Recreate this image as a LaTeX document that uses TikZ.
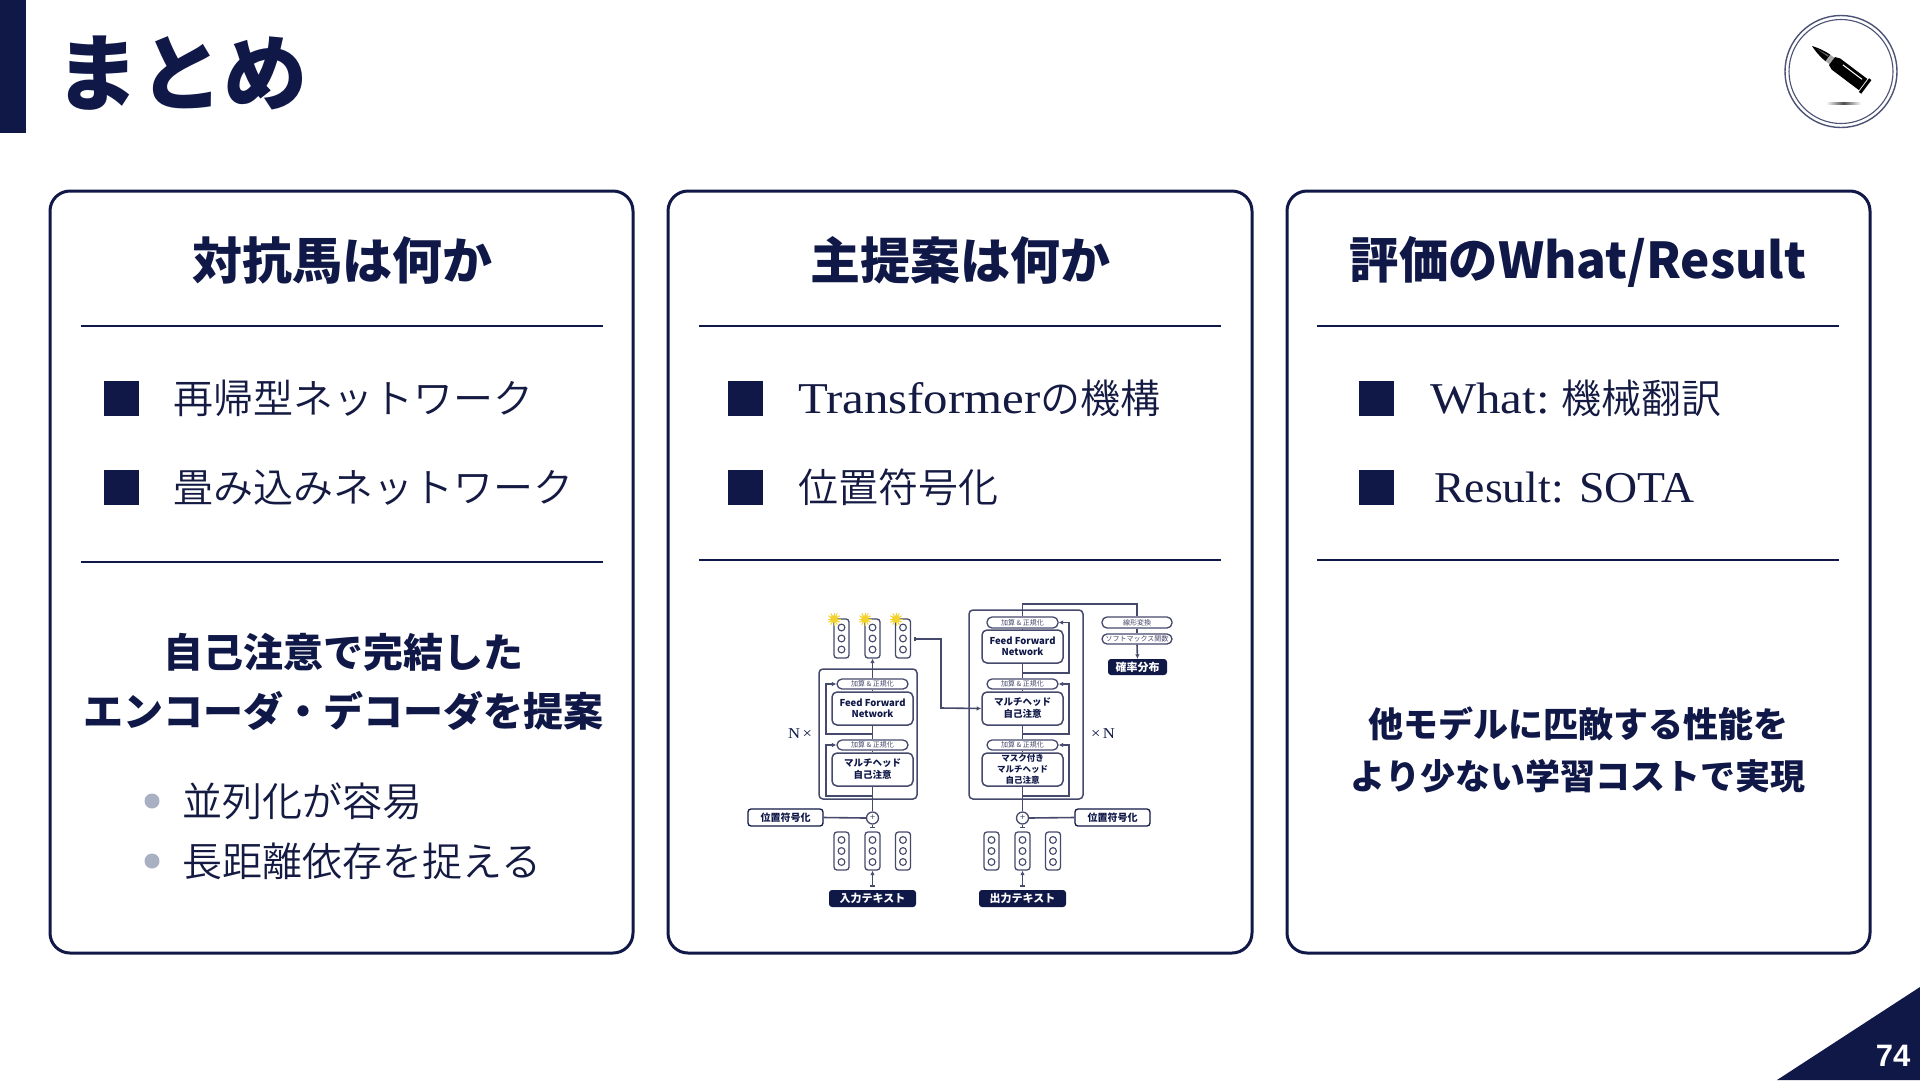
\documentclass[tikz,border=0pt]{standalone}
\usepackage{fontspec}
\usetikzlibrary{arrows.meta}
\setmainfont{Noto Sans CJK JP}
\newfontfamily\jpb{Noto Sans CJK JP Black}
\newfontfamily\jpn{Noto Sans CJK JP DemiLight}
\newfontfamily\jpr{Noto Sans CJK JP}
\newfontfamily\lat[FakeStretch=1.11]{Liberation Serif}
\newfontfamily\latb[FakeStretch=1.04]{Liberation Serif}
\newfontfamily\num{Liberation Sans Bold}
\definecolor{navy}{HTML}{101848}
\definecolor{wirec}{HTML}{45496B}
\definecolor{dotc}{HTML}{A9B0C2}
\definecolor{bodyc}{HTML}{141A42}
\definecolor{starc}{HTML}{F4D22E}
\newcommand{\fs}[1]{\fontsize{#1}{#1}\selectfont}
\newcommand{\mx}[1]{{\lat\fs{44}#1}}
\newcommand{\mxb}[1]{{\latb\fs{44}#1}}
% box from corners: name, style, x1,y1,x2,y2, text
\newcommand{\bx}[7]{%
  \pgfmathsetmacro{\bxw}{#5-#3}\pgfmathsetmacro{\bxh}{#6-#4}%
  \pgfmathsetmacro{\bxcx}{(#3+#5)/2}\pgfmathsetmacro{\bxcy}{(#4+#6)/2}%
  \node[#2,minimum width=\bxw pt,minimum height=\bxh pt] (#1) at (\bxcx,\bxcy) {#7};}
\tikzset{
 x=1pt,y=-1pt,
 panel/.style={draw=navy,line width=3pt,rounded corners=20pt,fill=white,inner sep=0},
 hr/.style={draw=navy,line width=2pt},
 ptitle/.style={text=navy,font=\jpb\fs{50},inner sep=0},
 ptxt/.style={text=bodyc,font=\jpn\fs{40},inner sep=0,anchor=west},
 btxt/.style={text=navy,font=\jpb\fs{40},inner sep=0},
 ctxt/.style={text=navy,font=\jpb\fs{35},inner sep=0},
 wbox/.style={draw=wirec,line width=1.5pt,rounded corners=5pt,fill=white,inner sep=0,align=center,text=navy,font=\jpb\fs{9.5}},
 anorm/.style={draw=wirec,line width=1.3pt,rounded corners=5pt,fill=white,inner sep=0,text=wirec,font=\jpr\fs{7}},
 labelb/.style={draw=navy,line width=1.3pt,rounded corners=3pt,fill=white,inner sep=0,text=navy,font=\jpb\fs{10}},
 tagb/.style={fill=navy,rounded corners=3pt,inner sep=0,text=white,font=\jpb\fs{11}},
 vecb/.style={draw=wirec,line width=1.3pt,rounded corners=3pt,fill=white,inner sep=0},
 cell/.style={draw=wirec,line width=1.1pt,circle,fill=white,minimum size=6.8pt,inner sep=0},
 bigbox/.style={draw=wirec,line width=1.5pt,rounded corners=4pt,inner sep=0},
 wire/.style={draw=wirec,line width=1.6pt},
 arr/.style={wire,-{Latex[length=4.5pt,width=4.5pt]}},
 tarr/.style={wire,{Bar[width=4.5pt,length=1pt]}-{Latex[length=4.5pt,width=4.5pt]}},
 tline/.style={wire,{Bar[width=4.5pt,length=1pt]}-},
 plusb/.style={draw=wirec,line width=1.3pt,circle,fill=white,minimum size=12pt,inner sep=0,text=wirec,font=\jpr\fs{9}},
 ntxt/.style={inner sep=0,text=navy,font=\lat\fs{15}},
}
\newcommand{\vecbox}[4]{% name, x, y1, y2
  \pgfmathsetmacro{\vy}{(#3+#4)/2}
  \pgfmathsetmacro{\vh}{#4-#3}
  \node[vecb,minimum width=15pt,minimum height=\vh pt] (#1) at (#2,\vy) {};
  \node[cell] (#1a) at (#2,\vy-11) {};
  \node[cell] (#1b) at (#2,\vy) {};
  \node[cell] (#1c) at (#2,\vy+11) {};}
\begin{document}
\begin{tikzpicture}
\useasboundingbox (0,0) rectangle (1920,1080);
\fill[white] (0,0) rectangle (1920,1080);
% header
\fill[navy] (0,0) rectangle (26,133);
\node[anchor=west,inner sep=0,text=navy,font=\jpb\fs{84}] (title) at (55,73) {まとめ};
% panels
\bx{p1}{panel}{50}{191}{633}{953}{}
\bx{p2}{panel}{668}{191}{1252}{953}{}
\bx{p3}{panel}{1287}{191}{1870}{953}{}
\node[ptitle] (t1) at (342,260) {対抗馬は何か};
\node[ptitle] (t2) at (960,260) {主提案は何か};
\node[ptitle,font=\jpb\fs{49.4}] (t3) at (1578,262) {評価のWhat/Result};
\draw[hr] (81,326) -- (603,326);
\draw[hr] (699,326) -- (1221,326);
\draw[hr] (1317,326) -- (1839,326);
\draw[hr] (81,562) -- (603,562);
\draw[hr] (699,560) -- (1221,560);
\draw[hr] (1317,560) -- (1839,560);
% bullets
\foreach \x/\y in {104/381,104/470,728/381,728/470,1359/381,1359/470}{
  \fill[navy] (\x,\y) rectangle ++(35,35);}
\node[ptxt] (l1) at (173,398) {再帰型ネットワーク};
\node[ptxt] (l2) at (173,488) {畳み込みネットワーク};
\node[ptxt] (l3) at (798,398) {\mx{Transformer}の機構};
\node[ptxt] (l4) at (798,487) {位置符号化};
\node[ptxt] (l5) at (1430,398) {\mx{What:} 機械翻訳};
\node[ptxt] (l6) at (1434,488) {\mxb{Result: SOTA}};
\node[btxt] (b1) at (343,652) {自己注意で完結した};
\node[btxt] (b2) at (343,711) {エンコーダ・デコーダを提案};
\fill[dotc] (152,801) circle (7.5);
\fill[dotc] (152,861) circle (7.5);
\node[ptxt] (s1) at (182,801) {並列化が容易};
\node[ptxt] (s2) at (182,861) {長距離依存を捉える};
\node[ctxt] (c1) at (1578,724) {他モデルに匹敵する性能を};
\node[ctxt] (c2) at (1578,776) {より少ない学習コストで実現};
% encoder
\bx{enc}{bigbox}{819}{669}{917}{799}{}
\bx{ean1}{anorm}{837}{679}{908}{689}{加算 \& 正規化}
\bx{effn}{wbox}{832}{692}{913}{725}{Feed Forward\\[1.5pt]Network}
\bx{ean2}{anorm}{837}{740}{908}{750}{加算 \& 正規化}
\bx{emha}{wbox}{832}{753}{913}{786}{マルチヘッド\\[2.5pt]自己注意}
\bx{epos}{labelb}{748}{809}{823}{826}{位置符号化}
\node[plusb] (eplus) at (872.5,818) {+};
\bx{etag}{tagb}{829}{890}{916}{907}{入力テキスト}
\vecbox{eu1}{841.5}{619}{658}
\vecbox{eu2}{872.5}{619}{658}
\vecbox{eu3}{903}{619}{658}
\vecbox{ed1}{841.5}{832}{870}
\vecbox{ed2}{872.5}{832}{870}
\vecbox{ed3}{903}{832}{870}
\node[ntxt] (nl) at (800,734) {N\,×};
% decoder
\bx{dec}{bigbox}{969}{610}{1083}{799}{}
\bx{dan1}{anorm}{987}{617}{1058}{628}{加算 \& 正規化}
\bx{dffn}{wbox}{982}{630}{1063}{663}{Feed Forward\\[1.5pt]Network}
\bx{dan2}{anorm}{987}{679}{1058}{689}{加算 \& 正規化}
\bx{dmha}{wbox}{982}{692}{1063}{725}{マルチヘッド\\[2.5pt]自己注意}
\bx{dan3}{anorm}{987}{740}{1058}{750}{加算 \& 正規化}
\bx{dmsk}{wbox}{982}{753}{1063}{786}{\fs{8.5}マスク付き\\[1.5pt]\fs{8.5}マルチヘッド\\[1.5pt]\fs{8.5}自己注意}
\bx{dpos}{labelb}{1075}{809}{1150}{826}{位置符号化}
\node[plusb] (dplus) at (1022.5,818) {+};
\bx{dtag}{tagb}{979}{890}{1066}{907}{出力テキスト}
\vecbox{dd1}{991.5}{832}{870}
\vecbox{dd2}{1022.5}{832}{870}
\vecbox{dd3}{1053}{832}{870}
\node[ntxt] (nr) at (1103,734) {×\,N};
\bx{lin}{anorm}{1102}{617}{1172}{628}{線形変換}
\bx{sfm}{anorm}{1102}{634}{1172}{644}{ソフトマックス関数}
\bx{prob}{tagb}{1108}{659}{1167}{675}{確率分布}
% stars
\foreach \x in {834,865,896}{
  \foreach \a in {0,30,...,330}{\draw[starc,line width=1pt] (\x,619) -- +(\a:6.5);}
  \fill[starc] (\x,619) circle (3.8);}
% encoder wires
\draw[tarr] ([yshift=3pt]etag.north) -- (ed2.south);
\draw[tline] ([yshift=3pt]ed2.north) -- (eplus.south);
\draw[wire] (eplus.north) -- (emha.south);
\draw[wire] (emha.north) -- (ean2.south);
\draw[wire] (ean2.north) -- (effn.south);
\draw[wire] (effn.north) -- (ean1.south);
\draw[arr] (ean1.north) -- (eu2.south);
\draw[wire] (epos.east) -- (eplus.west);
\coordinate (er1) at (826,734);
\coordinate (er2) at (826,796);
\coordinate (ej1) at (872.5,734);
\coordinate (ej2) at (872.5,796);
\draw[arr] (ej1) -- (er1) |- (ean1.west);
\draw[arr] (ej2) -- (er2) |- (ean2.west);
% decoder wires
\draw[tarr] ([yshift=3pt]dtag.north) -- (dd2.south);
\draw[tline] ([yshift=3pt]dd2.north) -- (dplus.south);
\draw[wire] (dplus.north) -- (dmsk.south);
\draw[wire] (dmsk.north) -- (dan3.south);
\draw[wire] (dan3.north) -- (dmha.south);
\draw[wire] (dmha.north) -- (dan2.south);
\draw[wire] (dan2.north) -- (dffn.south);
\draw[wire] (dffn.north) -- (dan1.south);
\draw[wire] (dpos.west) -- (dplus.east);
\coordinate (dj1) at (1022.5,673);
\coordinate (dj2) at (1022.5,734);
\coordinate (dj3) at (1022.5,796);
\coordinate (dr1) at (1069,673);
\coordinate (dr2) at (1069,734);
\coordinate (dr3) at (1069,796);
\draw[arr] (dj1) -- (dr1) |- (dan1.east);
\draw[arr] (dj2) -- (dr2) |- (dan2.east);
\draw[arr] (dj3) -- (dr3) |- (dan3.east);
\coordinate (top1) at (1022.5,604);
\coordinate (top2) at (1137,604);
\draw[wire] (dan1.north) -- (top1) -- (top2) -- (lin.north);
\draw[wire] (lin.south) -- (sfm.north);
\draw[arr] (sfm.south) -- (prob.north);
% cross
\coordinate (cr1) at (941,639);
\coordinate (cr2) at (941,708);
\coordinate (cr0) at (914,639);
\draw[tarr] (cr0) -- (cr1) -- (cr2) -- (dmha.west);
% logo
\node[draw=navy!75,line width=1.4pt,circle,minimum size=112pt,inner sep=0] (logo) at (1841,71.5) {};
\node[draw=navy!75,line width=1.1pt,circle,minimum size=104pt,inner sep=0] (logoin) at (1841,71.5) {};
\begin{scope}[shift={(1812,46)},rotate=-37]
  \fill[black] (0,0) .. controls (8,-3) and (16,-4) .. (20,-4) -- (20,4) .. controls (16,4) and (8,3) .. (0,0) -- cycle;
  \fill[black!60] (6,-0.6) -- (19,-2.5) -- (19,-1) -- cycle;
  \fill[black!35] (20,-4) rectangle (25,4);
  \fill[black] (25,-5) -- (30,-7) -- (64,-7) -- (64,7) -- (30,7) -- (25,5) -- cycle;
  \fill[white] (36,-4) rectangle (60,-3);
  \fill[black] (65,-8.5) rectangle (68,8.5);
\end{scope}
\shade[left color=white,right color=white,middle color=black!70] (1826,102) rectangle (1861,104);
% corner
\fill[navy] (1920,987) -- (1920,1080) -- (1777,1080) -- cycle;
\node[inner sep=0,text=white,font=\num\fs{31}] (pg) at (1893,1056) {74};
\end{tikzpicture}
\end{document}
